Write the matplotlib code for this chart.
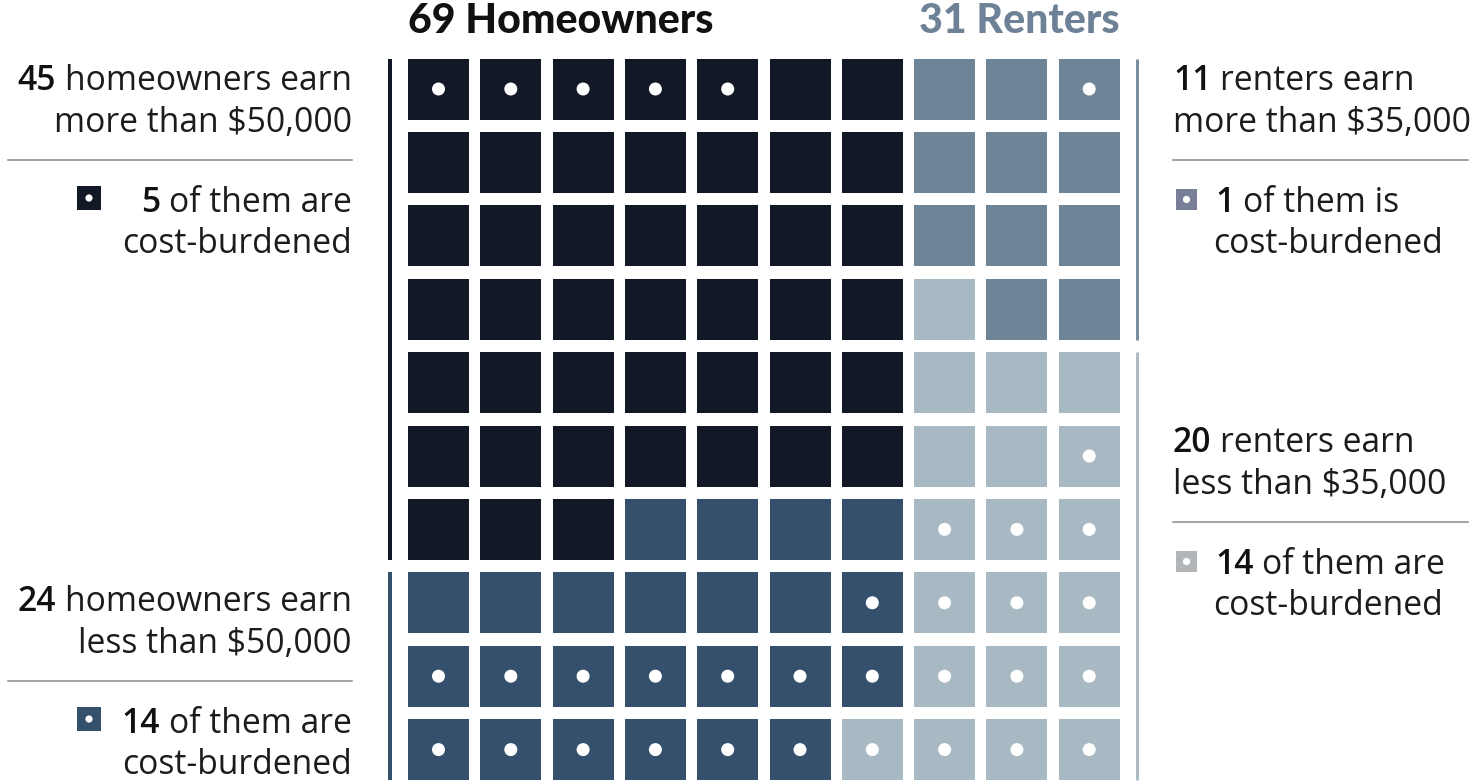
import matplotlib
matplotlib.use("Agg")
import matplotlib.pyplot as plt
from matplotlib.patches import Rectangle, Circle

# One character per household, read row by row (10 x 10 = 100 households).
# a: homeowner earning more than $50,000   b: homeowner earning less than $50,000
# c: renter earning more than $35,000      d: renter earning less than $35,000
# Upper case marks a cost-burdened household.
household_rows = [
    "AAAAAaaccC",
    "aaaaaaaccc",
    "aaaaaaaccc",
    "aaaaaaadcc",
    "aaaaaaaddd",
    "aaaaaaaddD",
    "aaabbbbDDD",
    "bbbbbbBDDD",
    "BBBBBBBDDD",
    "BBBBBBDDDD",
]
owner_groups = ["a", "b"]
renter_groups = ["c", "d"]
group_income_text = {
    "a": ("homeowners earn", "more than $50,000"),
    "b": ("homeowners earn", "less than $50,000"),
    "c": ("renters earn", "more than $35,000"),
    "d": ("renters earn", "less than $35,000"),
}

# ---- styling -------------------------------------------------------------
W, H = 1479, 784
cell_colors = {"a": "#121826", "b": "#35506d", "c": "#6e8598", "d": "#a9b9c4"}
icon_colors = {"a": "#121826", "b": "#35506d", "c": "#787f96", "d": "#b3b6b9"}
rule_colors = {"a": "#121826", "b": "#35506d", "c": "#7e909f", "d": "#aebcc6"}
text_color = "#1c1c1c"
renter_title_color = "#6d8296"
body_family = ["Open Sans", "DejaVu Sans"]
title_family = ["Lato", "Open Sans", "DejaVu Sans"]

grid_x0, grid_y0 = 408.0, 58.5
pitch_x, pitch_y = 72.3, 73.4
cell_w, cell_h = 61.0, 61.0
dot_r = 6.5

fig = plt.figure(figsize=(W / 100, H / 100), dpi=100)
fig.patch.set_facecolor("white")
ax = fig.add_axes([0, 0, 1, 1])
ax.set_xlim(0, W)
ax.set_ylim(H, 0)
ax.axis("off")
renderer = fig.canvas.get_renderer()


def text_width(s, size, weight, family):
    t = ax.text(0, 0, s, fontsize=size, fontweight=weight, family=family)
    w = t.get_window_extent(renderer).width
    t.remove()
    return w


# ---- waffle cells ----------------------------------------------------------
counts = {}
burdened = {}
for r, row in enumerate(household_rows):
    for c, ch in enumerate(row):
        g = ch.lower()
        counts[g] = counts.get(g, 0) + 1
        if ch.isupper():
            burdened[g] = burdened.get(g, 0) + 1
        x = grid_x0 + c * pitch_x
        y = grid_y0 + r * pitch_y
        ax.add_patch(Rectangle((x, y), cell_w, cell_h, facecolor=cell_colors[g],
                               edgecolor="none"))
        if ch.isupper():
            ax.add_patch(Circle((x + cell_w / 2, y + cell_h / 2), dot_r,
                                facecolor="white", edgecolor="none"))


# ---- side rules: one segment per income group ------------------------------
def rows_with(g):
    return [r for r, row in enumerate(household_rows) if g in row.lower()]


def draw_rule(x, groups, lw_px):
    upper, lower = groups
    last_upper = max(rows_with(upper))
    spans = [(upper, 0, last_upper), (lower, last_upper + 1, len(household_rows) - 1)]
    for g, r0, r1 in spans:
        y0 = grid_y0 + r0 * pitch_y
        y1 = grid_y0 + r1 * pitch_y + cell_h
        ax.plot([x, x], [y0, y1], color=rule_colors[g], lw=lw_px * 0.72,
                solid_capstyle="butt")


draw_rule(390, owner_groups, 4)
draw_rule(1137, renter_groups, 3)

# ---- titles -------------------------------------------------------------
n_owners = sum(counts[g] for g in owner_groups)
n_renters = sum(counts[g] for g in renter_groups)
owner_title = f"{n_owners} Homeowners"
renter_title = f"{n_renters} Renters"
title_weight = "black"
title_size = 20 * 306 / text_width(owner_title, 20, title_weight, title_family)
grid_right = grid_x0 + 9 * pitch_x + cell_w
ax.text(grid_x0, 33, owner_title, fontsize=title_size, fontweight=title_weight,
        family=title_family, color="#111111", ha="left", va="baseline")
ax.text(grid_right, 33, renter_title, fontsize=title_size, fontweight=title_weight,
        family=title_family, color=renter_title_color, ha="right", va="baseline")

# ---- annotation blocks ------------------------------------------------------
num_weight = "semibold"
ref = 20
gap20 = text_width("n n", ref, "normal", body_family) - text_width("nn", ref, "normal", body_family)
w20 = (text_width(str(counts["a"]), ref, num_weight, body_family) + gap20
       + text_width(group_income_text["a"][0], ref, "normal", body_family))
body_size = ref * 334 / w20
gap = gap20 * body_size / ref


def mixed_line(x, y, number, rest, align):
    wn = text_width(number, body_size, num_weight, body_family)
    wr = text_width(rest, body_size, "normal", body_family)
    if align == "right":
        ax.text(x, y, rest, fontsize=body_size, family=body_family, color=text_color,
                ha="right", va="baseline")
        ax.text(x - wr - gap, y, number, fontsize=body_size, family=body_family,
                fontweight=num_weight, color="#111111", ha="right", va="baseline")
    else:
        ax.text(x, y, number, fontsize=body_size, family=body_family,
                fontweight=num_weight, color="#111111", ha="left", va="baseline")
        ax.text(x + wn + gap, y, rest, fontsize=body_size, family=body_family,
                color=text_color, ha="left", va="baseline")


def plain_line(x, y, s, align):
    ax.text(x, y, s, fontsize=body_size, family=body_family, color=text_color,
            ha=align, va="baseline")


def icon(x, y, size, g):
    ax.add_patch(Rectangle((x, y), size, size, facecolor=icon_colors[g], edgecolor="none"))
    ax.add_patch(Circle((x + size / 2, y + size / 2), 3.6, facecolor="white",
                        edgecolor="none"))


def block(g, base, side):
    earn, amount = group_income_text[g]
    nb = burdened.get(g, 0)
    verb = "is" if nb == 1 else "are"
    sep = base + 70
    if side == "left":
        xr = 352
        mixed_line(xr, base, str(counts[g]), earn, "right")
        plain_line(xr, base + 42, amount, "right")
        ax.plot([8, xr], [sep, sep], color="#8a8a8a", lw=1.1)
        icon(77, sep + 26, 24, g)
        mixed_line(xr, sep + 52, str(nb), f"of them {verb}", "right")
        plain_line(xr, sep + 93, "cost-burdened", "right")
    else:
        xl = 1173
        mixed_line(xl, base, str(counts[g]), earn, "left")
        plain_line(xl, base + 42, amount, "left")
        ax.plot([xl, 1468], [sep, sep], color="#8a8a8a", lw=1.1)
        icon(1176, sep + 29, 21, g)
        mixed_line(1215, sep + 52, str(nb), f"of them {verb}", "left")
        plain_line(1213, sep + 93, "cost-burdened", "left")


block("a", 90, "left")
block("b", 611, "left")
block("c", 90, "right")
block("d", 452, "right")

fig.savefig("out.png", dpi=100, facecolor="white")
